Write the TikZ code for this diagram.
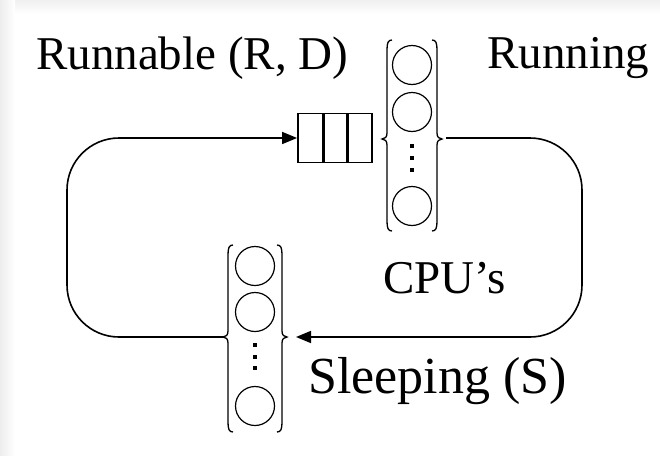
\documentclass[tikz,border=0pt]{standalone}
\usepackage{fontspec}
\setmainfont{Liberation Serif}
\usetikzlibrary{arrows.meta}
\begin{document}
\begin{tikzpicture}[x=1pt,y=-1pt,
  lbl/.style={anchor=base west,inner sep=0pt,font=\fontsize{47}{56}\selectfont},
  cpu/.style={draw,circle,line width=1.2pt,minimum size=39pt,inner sep=0pt},
  brc/.style={line width=1.3pt},
  flow/.style={line width=1.6pt,rounded corners=52pt},
  tip/.style={-{Triangle[length=15pt,width=12pt]}},
  dotmark/.style={fill,inner sep=0pt,minimum size=4.5pt,rectangle}]
% background with faint shadow
\useasboundingbox (0,0) rectangle (660,455);
\fill[gray!8] (0,0) rectangle (660,455);
\shade[top color=gray!12,bottom color=white] (0,0) rectangle (660,14);
\shade[left color=gray!14,right color=white] (0,0) rectangle (15,455);
\fill[white] (15,14) rectangle (660,455);

% labels
\node[lbl] (lrun) at (36,69) {Runnable (R, D)};
\node[lbl] (lrunning) at (487,68) {Running};
\node[lbl] (lcpu) at (383,293) {CPU’s};
\node[lbl,font=\fontsize{52}{60}\selectfont] (lsleep) at (308,393) {Sleeping (S)};

% queue
\node[draw,line width=1.8pt,minimum width=74pt,minimum height=49pt,inner sep=0pt] (queue) at (335,138) {};
\draw[line width=3pt] (323.5,114) -- (323.5,162) (347.5,114) -- (347.5,162);

% running column
\node[cpu] (r1) at (412,65) {};
\node[cpu] (r2) at (412,112) {};
\node[cpu] (r3) at (412,206) {};
\node[dotmark] (rd1) at (412,146) {};
\node[dotmark] (rd2) at (412,158) {};
\node[dotmark] (rd3) at (412,170) {};
\draw[brc] (392,40) .. controls (388,40) and (387,43) .. (387,50) -- (387,133)
  .. controls (387,137) and (385,139) .. (382,139) .. controls (385,139) and (387,141) .. (387,145)
  -- (387,221) .. controls (387,228) and (388,231) .. (392,231);
\draw[brc] (432,40) .. controls (436,40) and (437,43) .. (437,50) -- (437,133)
  .. controls (437,137) and (439,139) .. (442,139) .. controls (439,139) and (437,141) .. (437,145)
  -- (437,221) .. controls (437,228) and (436,231) .. (432,231);
\coordinate (runR) at (446,138);

% sleeping column
\node[cpu] (s1) at (255,266) {};
\node[cpu] (s2) at (255,312) {};
\node[cpu] (s3) at (255,406) {};
\node[dotmark] (sd1) at (255,345) {};
\node[dotmark] (sd2) at (255,357) {};
\node[dotmark] (sd3) at (255,368) {};
\draw[brc] (233,245) .. controls (229,245) and (228,248) .. (228,255) -- (228,331)
  .. controls (228,335) and (226,337) .. (223,337) .. controls (226,337) and (228,339) .. (228,343)
  -- (228,422) .. controls (228,429) and (229,432) .. (233,432);
\draw[brc] (277,245) .. controls (281,245) and (282,248) .. (282,255) -- (282,331)
  .. controls (282,335) and (284,337) .. (287,337) .. controls (284,337) and (282,339) .. (282,343)
  -- (282,422) .. controls (282,429) and (281,432) .. (277,432);
\coordinate (sleepL) at (224,337);
\coordinate (sleepR) at (296,337);

% connectors
\coordinate (cl1) at (67,337);
\coordinate (cl2) at (67,138);
\coordinate (cr1) at (582,138);
\coordinate (cr2) at (582,337);
\draw[flow,tip] (sleepL) -- (cl1) -- (cl2) -- (queue.west);
\draw[flow,tip] (runR) -- (cr1) -- (cr2) -- (sleepR);
\end{tikzpicture}
\end{document}
